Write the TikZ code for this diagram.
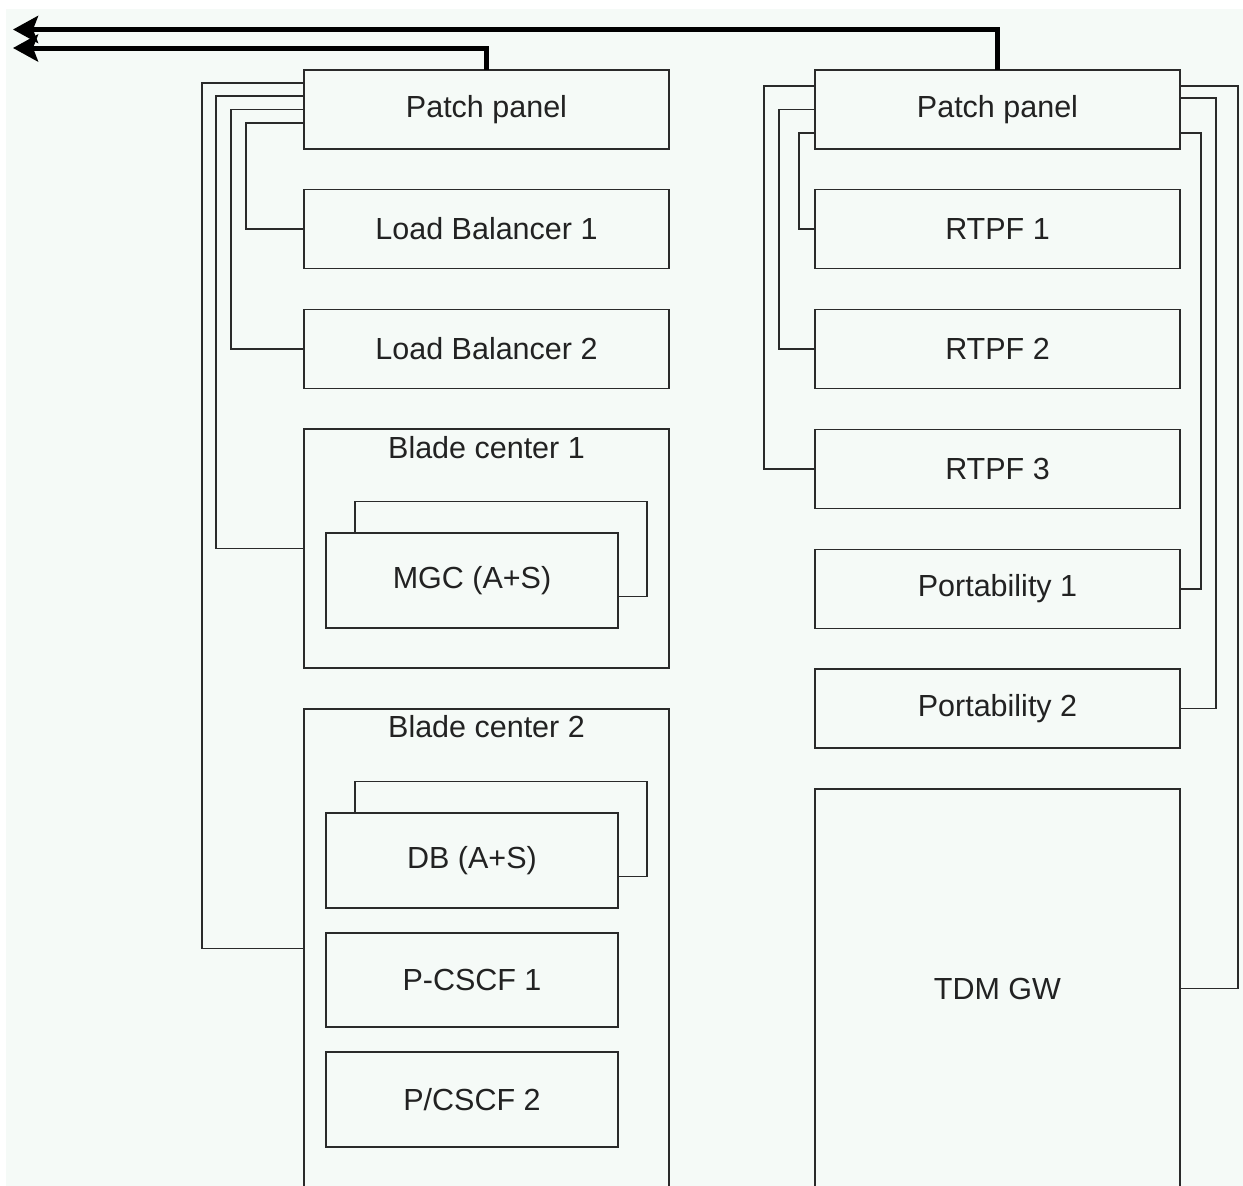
\documentclass[tikz,border=0pt]{standalone}
\usepackage{fontspec}
\setmainfont{Liberation Sans}
\usetikzlibrary{arrows.meta}
\definecolor{paper}{RGB}{245,250,247}
\definecolor{ink}{RGB}{42,42,42}
\definecolor{txt}{RGB}{34,34,34}
\tikzset{
  box/.style={draw=ink, line width=1.8pt, fill=paper, inner sep=0pt, outer sep=0pt,
    text=txt, font=\fontsize{30.5}{36}\selectfont, minimum width=365pt, minimum height=79pt},
  card/.style={box, minimum width=292pt, minimum height=95pt},
  caption/.style={inner sep=0pt, text=txt, font=\fontsize{30.5}{36}\selectfont},
  wire/.style={draw=ink, line width=1.8pt},
  bus/.style={draw=black, line width=5pt, -{Stealth[length=25pt,width=27pt,inset=5pt]}}
}
\begin{document}
\begin{tikzpicture}[x=1pt, y=-1pt]
  \useasboundingbox (0,0) rectangle (1243,1186);
  \clip (0,0) rectangle (1243,1186);
  \fill[white] (0,0) rectangle (1243,1186);
  \fill[paper] (6,9) rectangle (1243,1186);

  % left rack
  \node[box] (pp1) at (486.5,109.5) {Patch panel};
  \node[box] (lb1) at (486.5,229) {Load Balancer 1};
  \node[box] (lb2) at (486.5,349) {Load Balancer 2};
  \node[box, minimum height=239pt] (blade1) at (486.5,548.5) {};
  \node[caption] (blade1t) at (486.5,448) {Blade center 1};
  \node[card] (mgcb) at (501,549) {};
  \node[card] (mgc) at (472,580.5) {MGC (A+S)};
  \node[box, minimum height=479pt] (blade2) at (486.5,948.5) {};
  \node[caption] (blade2t) at (486.5,727) {Blade center 2};
  \node[card] (dbb) at (501,829) {};
  \node[card] (db) at (472,860.5) {DB (A+S)};
  \node[card, minimum height=94pt] (pcscf1) at (472,980) {P-CSCF 1};
  \node[card] (pcscf2) at (472,1099.5) {P/CSCF 2};

  % right rack
  \node[box] (pp2) at (997.5,109.5) {Patch panel};
  \node[box] (rtpf1) at (997.5,229) {RTPF 1};
  \node[box] (rtpf2) at (997.5,349) {RTPF 2};
  \node[box] (rtpf3) at (997.5,469) {RTPF 3};
  \node[box] (port1) at (997.5,589) {Portability 1};
  \node[box] (port2) at (997.5,708.5) {Portability 2};
  \node[box, minimum height=399pt] (tdm) at (997.5,988.5) {TDM GW};

  % patch cords, left rack
  \draw[wire] ([yshift=26.5pt]pp1.west) -- ++(-102,0) |- (blade2.west);
  \draw[wire] ([yshift=13.5pt]pp1.west) -- ++(-88,0) |- (blade1.west);
  \draw[wire] (pp1.west) -- ++(-73,0) |- (lb2.west);
  \draw[wire] ([yshift=-13.5pt]pp1.west) -- ++(-58,0) |- (lb1.west);

  % patch cords, right rack
  \draw[wire] ([yshift=23.5pt]pp2.west) -- ++(-51,0) |- (rtpf3.west);
  \draw[wire] (pp2.west) -- ++(-36,0) |- (rtpf2.west);
  \draw[wire] ([yshift=-23.5pt]pp2.west) -- ++(-16,0) |- (rtpf1.west);
  \draw[wire] ([yshift=23.5pt]pp2.east) -- ++(58,0) |- (tdm.east);
  \draw[wire] ([yshift=11.5pt]pp2.east) -- ++(36,0) |- (port2.east);
  \draw[wire] ([yshift=-23.5pt]pp2.east) -- ++(21,0) |- (port1.east);

  % uplinks
  \coordinate (upL) at (13,48);
  \coordinate (upR) at (13,29.5);
  \draw[bus] (pp2.north) |- (upR);
  \draw[bus] (pp1.north) |- (upL);
\end{tikzpicture}
\end{document}
